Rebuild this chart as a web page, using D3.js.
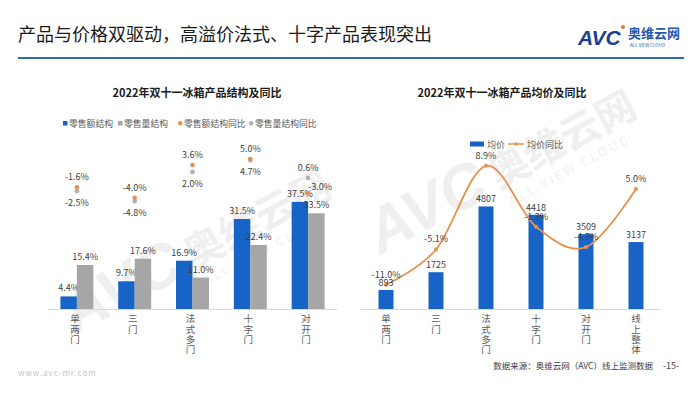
<!DOCTYPE html>
<html><head><meta charset="utf-8">
<script src="https://cdn.jsdelivr.net/npm/d3@7"></script>
<style>
html,body{margin:0;padding:0;background:#fff;}
svg{display:block;font-family:"Noto Sans CJK SC","Noto Sans",sans-serif;}
</style></head>
<body><svg id="c" width="700" height="394"></svg>
<script>
// ---- data ----
const structCats = ["单两门","三门","法式多门","十字门","对开门"];
const valueShare = [4.4, 9.7, 16.9, 31.5, 37.5];      // 零售额结构 %
const volumeShare = [15.4, 17.6, 11.0, 22.4, 33.5];   // 零售量结构 %
const valueShareYoY = [-1.6, -4.0, 3.6, 5.0, -3.0];   // 零售额结构同比 %
const volumeShareYoY = [-2.5, -4.8, 2.0, 4.7, 0.6];   // 零售量结构同比 %
const leftLegend = ["零售额结构","零售量结构","零售额结构同比","零售量结构同比"];

const priceCats = ["单两门","三门","法式多门","十字门","对开门","线上整体"];
const avgPrice = [893, 1725, 4807, 4418, 3509, 3137];
const priceYoY = [-11.0, -5.1, 8.9, -1.3, -4.7, 5.0];
const rightLegend = ["均价","均价同比"];

const pageTitle = "产品与价格双驱动，高溢价法式、十字产品表现突出";
const leftTitle = "2022年双十一冰箱产品结构及同比";
const rightTitle = "2022年双十一冰箱产品均价及同比";
const sourceText = "数据来源：奥维云网（AVC）线上监测数据";
const pageNo = "-15-";
const siteText = "www.avc-mr.com";

// ---- styles ----
const BLUE = "#1763c6", GRAY = "#a6a6a6", ORANGE = "#e8914f", DOTGRAY = "#b0b0b0";
const TXT = "#404040", LBL = "#595959";

const svg = d3.select("#c");
const fmtPct = v => v.toFixed(1) + "%";

// watermarks (faint)
function watermark(x, y) {
  const g = svg.append("g").attr("transform", `translate(${x},${y}) rotate(-28)`).attr("opacity", 0.09);
  g.append("text").attr("x", 0).attr("y", 0).attr("font-size", 62).attr("font-weight", 900)
    .attr("font-style", "italic").attr("fill", "#555").attr("font-family", "Liberation Sans").text("AVC");
  g.append("text").attr("x", 135).attr("y", -2).attr("font-size", 40).attr("font-weight", 700).attr("fill", "#555").text("奥维云网");
  g.append("text").attr("x", 140).attr("y", 18).attr("font-size", 12).attr("fill", "#555").attr("letter-spacing", 3).text("ALL VIEW CLOUD");
}
watermark(75, 335);
watermark(380, 255);

// header
svg.append("text").attr("x", 18).attr("y", 41).attr("font-size", 18).attr("fill", "#1a1a1a").text(pageTitle);
svg.append("line").attr("x1", 18).attr("x2", 684).attr("y1", 58).attr("y2", 58).attr("stroke", "#2f6eb0").attr("stroke-width", 2);
svg.append("text").attr("x", 578).attr("y", 45).attr("font-size", 21).attr("font-weight", 900).attr("font-style", "italic")
  .attr("font-family", "Liberation Sans").attr("fill", "#1d3f93").text("AVC");
svg.append("circle").attr("cx", 623).attr("cy", 27).attr("r", 2).attr("fill", "#e8703a");
svg.append("text").attr("x", 628).attr("y", 38).attr("font-size", 13).attr("font-weight", 700).attr("fill", "#2457b0").text("奥维云网");
svg.append("text").attr("x", 630).attr("y", 47).attr("font-size", 4.5).attr("fill", "#2457b0").text("ALL VIEW CLOUD");

// footer
svg.append("text").attr("x", 18).attr("y", 376).attr("font-size", 8).attr("fill", "#c4c4c4").attr("letter-spacing", 1).text(siteText);
svg.append("text").attr("x", 653).attr("y", 369).attr("font-size", 8.5).attr("fill", "#404040").attr("text-anchor", "end").text(sourceText);
svg.append("text").attr("x", 663).attr("y", 369).attr("font-size", 9).attr("fill", "#404040").text(pageNo);

function vertLabel(g, x, yTop, str) {
  g.append("text").attr("x", x).attr("y", yTop).attr("font-size", 9.5).attr("fill", LBL)
    .attr("writing-mode", "vertical-rl").attr("letter-spacing", 0.8).text(str);
}

// ===== LEFT CHART =====
const L = svg.append("g");
L.append("text").attr("x", 197).attr("y", 97).attr("text-anchor", "middle").attr("font-size", 11).attr("font-weight", 700).attr("fill", "#1a1a1a").text(leftTitle);

const x0 = d3.scaleBand().domain(structCats).range([48, 337]).paddingInner(0.43).paddingOuter(0.215);
const x1 = d3.scaleBand().domain(["v", "q"]).range([0, x0.bandwidth()]);
const yL = d3.scaleLinear().domain([0, 40]).range([309, 309 - 114.3]);
const yL2 = d3.scaleLinear().domain([-6, 6]).range([206.3, 154.7]);

// legend
const legX = [63, 118, 178, 249];
const legKinds = ["rect", "rect", "dot", "dot"];
const legCols = [BLUE, GRAY, ORANGE, DOTGRAY];
leftLegend.forEach((name, i) => {
  if (legKinds[i] === "rect") L.append("rect").attr("x", legX[i]).attr("y", 121).attr("width", 4.5).attr("height", 4.5).attr("fill", legCols[i]);
  else L.append("circle").attr("cx", legX[i] + 2.2).attr("cy", 123.3).attr("r", 2.2).attr("fill", legCols[i]);
  L.append("text").attr("x", legX[i] + 6).attr("y", 126.5).attr("font-size", 8.8).attr("fill", LBL).text(name);
});

// axis line
L.append("line").attr("x1", 48).attr("x2", 337).attr("y1", 309.5).attr("y2", 309.5).attr("stroke", "#d9d9d9");

structCats.forEach((c, i) => {
  const bx = x0(c);
  [["v", valueShare[i], BLUE], ["q", volumeShare[i], GRAY]].forEach(([k, v, col]) => {
    L.append("rect").attr("x", bx + x1(k)).attr("y", yL(v)).attr("width", x1.bandwidth()).attr("height", yL(0) - yL(v)).attr("fill", col);
    L.append("text").attr("x", bx + x1(k) + x1.bandwidth() / 2).attr("y", yL(v) - 5).attr("text-anchor", "middle")
      .attr("font-size", 9).attr("fill", TXT).text(fmtPct(v));
  });
  const cx = bx + x0.bandwidth() / 2;
  vertLabel(L, cx - 2, 314, c);

  // yoy dots
  const a = valueShareYoY[i], b = volumeShareYoY[i];
  const last = i === structCats.length - 1;
  [[b, DOTGRAY, "q"], [a, ORANGE, "v"]].forEach(([v, col, k]) => {
    L.append("circle").attr("cx", cx).attr("cy", yL2(v)).attr("r", 2.3).attr("fill", col);
    const higher = k === "v" ? a >= b : b > a;
    const t = L.append("text").attr("font-size", 9).attr("fill", TXT);
    if (higher) t.attr("x", cx).attr("y", yL2(v) - 7).attr("text-anchor", "middle");
    else if (last) t.attr("x", cx).attr("y", yL2(v) - 3).attr("text-anchor", "start");
    else t.attr("x", cx).attr("y", yL2(v) + 15).attr("text-anchor", "middle");
    t.text(fmtPct(v));
  });
});

// ===== RIGHT CHART =====
const R = svg.append("g");
R.append("text").attr("x", 502).attr("y", 97).attr("text-anchor", "middle").attr("font-size", 11).attr("font-weight", 700).attr("fill", "#1a1a1a").text(rightTitle);

const xr = d3.scaleBand().domain(priceCats).range([361, 661]).paddingInner(0.7).paddingOuter(0.35);
const yR = d3.scaleLinear().domain([0, 6000]).range([309, 309 - 128]);
const yR2 = d3.scaleLinear().domain([-15, 10]).range([308.7, 159.2]);

// legend
R.append("rect").attr("x", 470).attr("y", 141.5).attr("width", 14).attr("height", 5).attr("fill", BLUE);
R.append("text").attr("x", 487).attr("y", 147.5).attr("font-size", 9).attr("fill", LBL).text(rightLegend[0]);
R.append("line").attr("x1", 508).attr("x2", 524).attr("y1", 144).attr("y2", 144).attr("stroke", ORANGE).attr("stroke-width", 1.5);
R.append("circle").attr("cx", 516).attr("cy", 144).attr("r", 1.8).attr("fill", ORANGE);
R.append("text").attr("x", 527).attr("y", 147.5).attr("font-size", 9).attr("fill", LBL).text(rightLegend[1]);

R.append("line").attr("x1", 361).attr("x2", 661).attr("y1", 309.5).attr("y2", 309.5).attr("stroke", "#d9d9d9");

priceCats.forEach((c, i) => {
  const v = avgPrice[i];
  R.append("rect").attr("x", xr(c)).attr("y", yR(v)).attr("width", xr.bandwidth()).attr("height", yR(0) - yR(v)).attr("fill", BLUE);
  vertLabel(R, xr(c) + xr.bandwidth() / 2, 314, c);
});

const cxR = c => xr(c) + xr.bandwidth() / 2;
const lineGen = d3.line().x((d, i) => cxR(priceCats[i])).y(d => yR2(d)).curve(d3.curveCardinal.tension(0));
R.append("path").attr("d", lineGen(priceYoY)).attr("fill", "none").attr("stroke", ORANGE).attr("stroke-width", 1.8);
priceYoY.forEach((v, i) => {
  R.append("circle").attr("cx", cxR(priceCats[i])).attr("cy", yR2(v)).attr("r", 2).attr("fill", ORANGE);
});

// labels on top
priceCats.forEach((c, i) => {
  const v = avgPrice[i];
  R.append("text").attr("x", cxR(c)).attr("y", yR(v) - 4).attr("text-anchor", "middle").attr("font-size", 9).attr("fill", TXT).text(v);
  const p = priceYoY[i];
  R.append("text").attr("x", cxR(c)).attr("y", yR2(p) - 7).attr("text-anchor", "middle").attr("font-size", 9).attr("fill", TXT).text(fmtPct(p));
});
</script></body></html>
